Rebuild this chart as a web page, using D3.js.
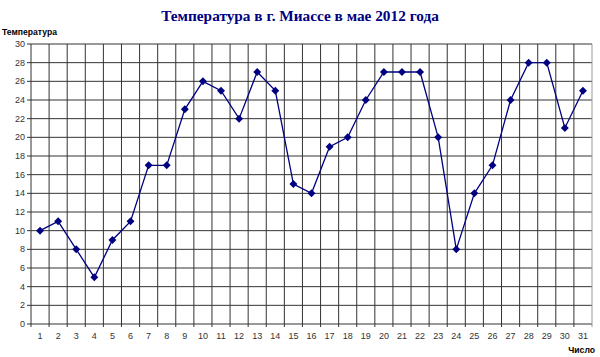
<!DOCTYPE html>
<html>
<head>
<meta charset="utf-8">
<script src="https://cdn.jsdelivr.net/npm/d3@7"></script>
<style>
  body { margin: 0; background: #fff; }
  svg { display: block; }
</style>
</head>
<body>
<div id="chart"></div>
<script>
// Days of May 2012 and the temperature for each
const days = d3.range(1, 32);
const temps = [10, 11, 8, 5, 9, 11, 17, 17, 23, 26, 25, 22, 27, 25, 15, 14, 19, 20, 24, 27, 27, 27, 20, 8, 14, 17, 24, 28, 28, 21, 25];
const yTicks = d3.range(0, 31, 2);

const chartTitle = 'Температура в г. Миассе в мае 2012 года';
const yTitle = 'Температура';
const xTitle = 'Число';

const W = 600, H = 357;
const margin = {top: 44, right: 8, bottom: 33, left: 31};
const width = W - margin.left - margin.right;
const height = H - margin.top - margin.bottom;

const svg = d3.select('#chart').append('svg')
    .attr('width', W)
    .attr('height', H);

const g = svg.append('g')
    .attr('transform', `translate(${margin.left},${margin.top})`);

const x = d3.scaleBand()
    .domain(days)
    .range([0, width]);

const y = d3.scaleLinear()
    .domain([0, 30])
    .range([height, 0]);

const gridColor = '#333';

// horizontal grid
g.selectAll('.hgrid')
    .data(yTicks)
    .enter()
    .append('line')
    .attr('x1', 0)
    .attr('x2', width)
    .attr('y1', d => y(d))
    .attr('y2', d => y(d))
    .attr('stroke', gridColor)
    .attr('stroke-width', 1);

// vertical grid at band edges
const edges = days.map(d => x(d)).concat([width]);
g.selectAll('.vgrid')
    .data(edges)
    .enter()
    .append('line')
    .attr('x1', d => d)
    .attr('x2', d => d)
    .attr('y1', 0)
    .attr('y2', height + 3)
    .attr('stroke', (d, i) => i === edges.length - 1 ? '#999' : gridColor)
    .attr('stroke-width', 1);

// y axis ticks and labels
g.selectAll('.ytick')
    .data(yTicks)
    .enter()
    .append('line')
    .attr('x1', -4)
    .attr('x2', 0)
    .attr('y1', d => y(d))
    .attr('y2', d => y(d))
    .attr('stroke', gridColor);

g.selectAll('.ylabel')
    .data(yTicks)
    .enter()
    .append('text')
    .attr('x', -6)
    .attr('y', d => y(d))
    .attr('dy', '0.35em')
    .attr('text-anchor', 'end')
    .attr('font-family', 'Liberation Sans, Arial, sans-serif')
    .attr('font-size', 9)
    .attr('fill', '#333')
    .text(d => d);

// x labels
g.selectAll('.xlabel')
    .data(days)
    .enter()
    .append('text')
    .attr('x', d => x(d) + x.bandwidth() / 2)
    .attr('y', height + 15)
    .attr('text-anchor', 'middle')
    .attr('font-family', 'Liberation Sans, Arial, sans-serif')
    .attr('font-size', 9)
    .attr('fill', '#333')
    .text(d => d);

// temperature line
const pts = days.map((d, i) => ({day: d, t: temps[i]}));
const line = d3.line()
    .x(d => x(d.day) + x.bandwidth() / 2)
    .y(d => y(d.t));

g.append('path')
    .datum(pts)
    .attr('d', line)
    .attr('fill', 'none')
    .attr('stroke', '#000080')
    .attr('stroke-width', 1.3);

g.selectAll('.marker')
    .data(pts)
    .enter()
    .append('path')
    .attr('d', d3.symbol().type(d3.symbolDiamond2).size(40))
    .attr('transform', d => `translate(${x(d.day) + x.bandwidth() / 2},${y(d.t)})`)
    .attr('fill', '#000080');

// titles
svg.append('text')
    .attr('x', W / 2)
    .attr('y', 21)
    .attr('text-anchor', 'middle')
    .attr('font-family', 'Liberation Serif, Times New Roman, serif')
    .attr('font-weight', 'bold')
    .attr('font-size', 15.3)
    .attr('fill', '#000080')
    .text(chartTitle);

svg.append('text')
    .attr('x', 2)
    .attr('y', 35)
    .attr('font-family', 'Liberation Sans, Arial, sans-serif')
    .attr('font-weight', 'bold')
    .attr('font-size', 8.6)
    .attr('fill', '#000')
    .text(yTitle);

svg.append('text')
    .attr('x', 595)
    .attr('y', 353)
    .attr('text-anchor', 'end')
    .attr('font-family', 'Liberation Sans, Arial, sans-serif')
    .attr('font-weight', 'bold')
    .attr('font-size', 8.6)
    .attr('fill', '#000')
    .text(xTitle);
</script>
</body>
</html>
